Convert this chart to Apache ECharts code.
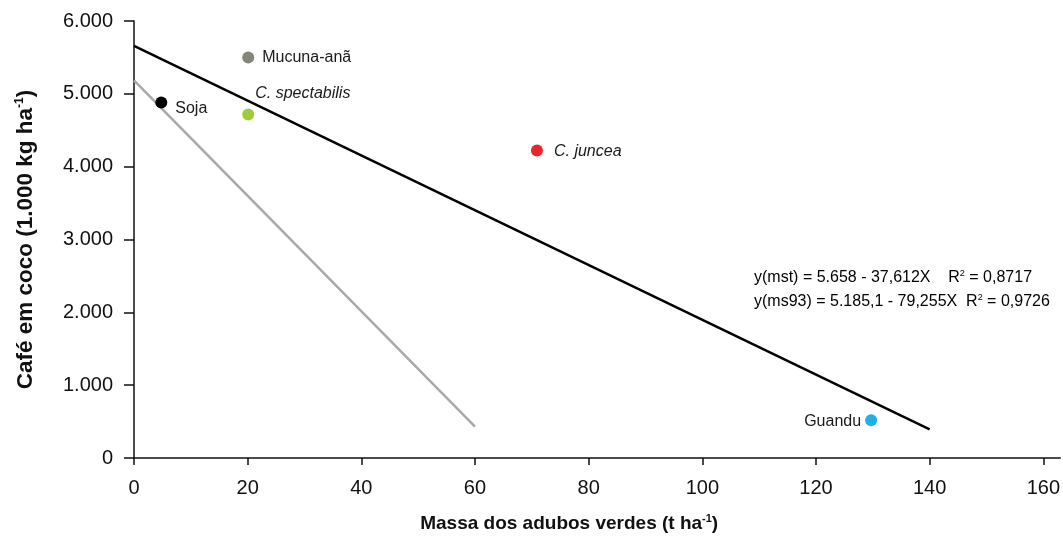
<!DOCTYPE html>
<html><head><meta charset="utf-8">
<script src="https://cdn.jsdelivr.net/npm/echarts@6/dist/echarts.min.js"></script>
<style>html,body{margin:0;padding:0;background:#fff}#c{width:1063px;height:543px}</style>
</head><body><div id="c"></div>
<script>
const xTicks = [0, 20, 40, 60, 80, 100, 120, 140, 160];
const yTicks = [0, 1000, 2000, 3000, 4000, 5000, 6000];
const pointNames = ['Soja', 'Mucuna-anã', 'C. spectabilis', 'C. juncea', 'Guandu'];
const pointX = [4.8, 20.1, 20.1, 70.9, 129.7];
const pointY = [4880, 5500, 4716, 4221, 519];
const pointColors = ['#000000', '#85857a', '#9ccb3b', '#e8262b', '#1eb0e9'];
const mstX = [0, 140];
const mstY = [5658, 392];
const ms93X = [0, 60];
const ms93Y = [5185.1, 429.8];
const eq1 = ['y(mst) = 5.658 - 37,612X    R', '2', ' = 0,8717'];
const eq2 = ['y(ms93) = 5.185,1 - 79,255X  R', '2', ' = 0,9726'];

const FONT = '"Liberation Sans", Arial, sans-serif';
const labelPos = {
  'Soja': {position: 'right', distance: 8, offset: [0, 6], fontStyle: 'normal'},
  'Mucuna-anã': {position: 'right', distance: 8, fontStyle: 'normal'},
  'C. spectabilis': {position: [13, -23], fontStyle: 'italic'},
  'C. juncea': {position: 'right', distance: 11, offset: [0, 1], fontStyle: 'italic'},
  'Guandu': {position: 'left', distance: 4, offset: [0, 1], fontStyle: 'normal'}
};
const fmt = v => {
  const s = String(Math.round(v));
  return s.length > 3 ? s.slice(0, s.length - 3) + '.' + s.slice(-3) : s;
};
const pts = pointNames.map((n, i) => ({
  name: n,
  value: [pointX[i], pointY[i]],
  itemStyle: {color: pointColors[i], opacity: 1},
  label: Object.assign({show: true, formatter: n, color: '#1a1a1a', fontSize: 16, fontFamily: FONT}, labelPos[n])
}));
const xRich = {
  b: {fontSize: 19, fontWeight: 'bold', fontFamily: FONT, color: '#111'},
  s: {fontSize: 11, fontWeight: 'bold', fontFamily: FONT, color: '#111', verticalAlign: 'top', padding: [0, 0, 10, 0]}
};
const yRich = {
  b: {fontSize: 22.5, fontWeight: 'bold', fontFamily: FONT, color: '#111'},
  s: {fontSize: 12, fontWeight: 'bold', fontFamily: FONT, color: '#111', verticalAlign: 'top', padding: [0, 0, 11, 0]}
};
const eqRich = {
  n: {fontSize: 16, fontFamily: FONT, color: '#1a1a1a'},
  s: {fontSize: 9, fontFamily: FONT, color: '#1a1a1a', padding: [0, 0, 9, 0]}
};
const chart = echarts.init(document.getElementById('c'));
chart.setOption({
  animation: false,
  grid: {left: 134, right: 2, top: 21, bottom: 85, containLabel: false},
  xAxis: {
    type: 'value', min: 0, max: 163, interval: 20,
    axisLine: {show: true, lineStyle: {color: '#111', width: 1.5}},
    axisTick: {show: true, length: 7, lineStyle: {color: '#111', width: 1.5}, customValues: xTicks},
    axisLabel: {customValues: xTicks, fontSize: 20, fontFamily: FONT, color: '#111', margin: 20},
    splitLine: {show: false},
    name: '{b|Massa dos adubos verdes (t ha}{s|-1}{b|)}',
    nameLocation: 'middle', nameGap: 55,
    nameTextStyle: {rich: xRich, padding: [0, 56, 0, 0]}
  },
  yAxis: {
    type: 'value', min: 0, max: 6000, interval: 1000,
    axisLine: {show: true, lineStyle: {color: '#111', width: 1.5}},
    axisTick: {show: true, length: 10, lineStyle: {color: '#111', width: 1.5}, customValues: yTicks},
    axisLabel: {customValues: yTicks, formatter: fmt, fontSize: 20, fontFamily: FONT, color: '#111', margin: 21},
    splitLine: {show: false},
    name: '{b|Café em coco (1.000 kg ha}{s|-1}{b|)}',
    nameLocation: 'middle', nameGap: 97,
    nameTextStyle: {rich: yRich}
  },
  graphic: [
    {type: 'text', left: 754, top: 269, style: {rich: eqRich, text: '{n|' + eq1[0] + '}{s|' + eq1[1] + '}{n|' + eq1[2] + '}'}},
    {type: 'text', left: 754, top: 293, style: {rich: eqRich, text: '{n|' + eq2[0] + '}{s|' + eq2[1] + '}{n|' + eq2[2] + '}'}}
  ],
  series: [
    {type: 'line', data: mstX.map((x, i) => [x, mstY[i]]), symbol: 'none', lineStyle: {color: '#000', width: 2.5}, z: 2},
    {type: 'line', data: ms93X.map((x, i) => [x, ms93Y[i]]), symbol: 'none', lineStyle: {color: '#a9a9a9', width: 2.5}, z: 2},
    {type: 'scatter', data: pts, symbolSize: 12, z: 3}
  ]
});
</script></body></html>
